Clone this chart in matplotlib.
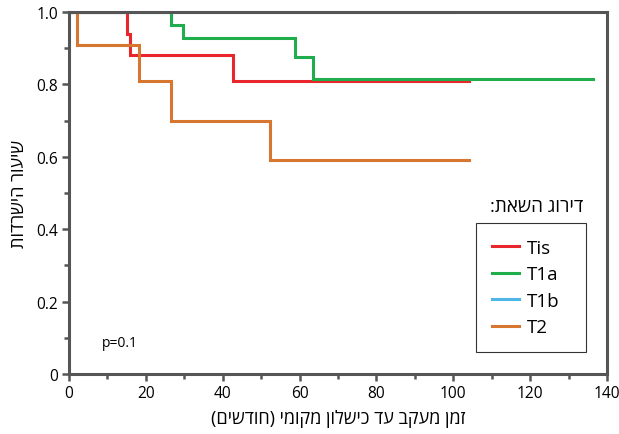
import matplotlib
matplotlib.use("Agg")
import matplotlib.pyplot as plt
from matplotlib.ticker import MultipleLocator

plt.rcParams['font.family'] = ['Open Sans', 'DejaVu Sans']


def rtl(s):
    # matplotlib has no bidi support, so flip Hebrew by hand and mirror the brackets
    flipped = s[::-1]
    return flipped.translate(str.maketrans("()", ")("))


# Kaplan-Meier step data (time in months, survival fraction)
tis_t = [0, 15.1, 15.8, 42.8, 104]
tis_s = [1.0, 0.94, 0.88, 0.81, 0.81]

t1a_t = [0, 26.5, 29.7, 58.7, 63.6, 136.3]
t1a_s = [1.0, 0.963, 0.928, 0.875, 0.814, 0.814]

t1b_t = [0, 100]
t1b_s = [1.0, 1.0]

t2_t = [0, 2.2, 18.2, 26.5, 52.2, 104]
t2_s = [1.0, 0.91, 0.81, 0.70, 0.59, 0.59]

series = [
    ("Tis", tis_t, tis_s, "#e8262b"),
    ("T1a", t1a_t, t1a_s, "#1fae4b"),
    ("T1b", t1b_t, t1b_s, "#4db6e6"),
    ("T2", t2_t, t2_s, "#d7772f"),
]

xlabel = "זמן מעקב עד כישלון מקומי (חודשים)"
ylabel = "שיעור הישרדות"
legend_title = "דירוג השאת:"

fig = plt.figure(figsize=(6.19, 4.35), dpi=100)
ax = fig.add_axes([0.1115, 0.138, 0.869, 0.832])

for name, t, s, c in series:
    ax.plot(t, s, drawstyle="steps-post", color=c, lw=2.2, label=name,
            zorder=2, solid_joinstyle="miter")

ax.set_xlim(0, 140)
ax.set_ylim(0, 1.0)
ax.xaxis.set_major_locator(MultipleLocator(20))
ax.xaxis.set_minor_locator(MultipleLocator(10))
ax.yaxis.set_major_locator(MultipleLocator(0.2))
ax.yaxis.set_minor_locator(MultipleLocator(0.1))
ax.set_yticks([0, 0.2, 0.4, 0.6, 0.8, 1.0])
ax.set_yticklabels(["0", "0.2", "0.4", "0.6", "0.8", "1.0"])

for sp in ax.spines.values():
    sp.set_color("#555555")
    sp.set_linewidth(2.2)
    sp.set_zorder(3)
ax.tick_params(which="major", direction="out", length=5, width=1.8,
               color="#555555", labelsize=11.2, pad=3)
ax.tick_params(which="minor", direction="out", length=3.5, width=1.8,
               color="#555555")

ax.set_xlabel(rtl(xlabel), fontsize=13, labelpad=6)
ax.set_ylabel(rtl(ylabel), fontsize=13, labelpad=6)

ax.text(8.5, 0.086, "p=0.1", fontsize=10, va="center", ha="left")

leg = ax.legend(loc="upper left", bbox_to_anchor=(0.769, 0.191, 0.177, 0.294),
                bbox_transform=fig.transFigure, mode="expand", borderaxespad=0,
                fontsize=13.5, frameon=True, fancybox=False, edgecolor="black",
                handlelength=1.45, handletextpad=0.4, labelspacing=0.45,
                borderpad=0.85)
leg.get_frame().set_linewidth(0.8)

fig.text(0.942, 0.524, rtl(legend_title), fontsize=13.5, ha="right", va="center")

fig.savefig("out.png", dpi=100)
